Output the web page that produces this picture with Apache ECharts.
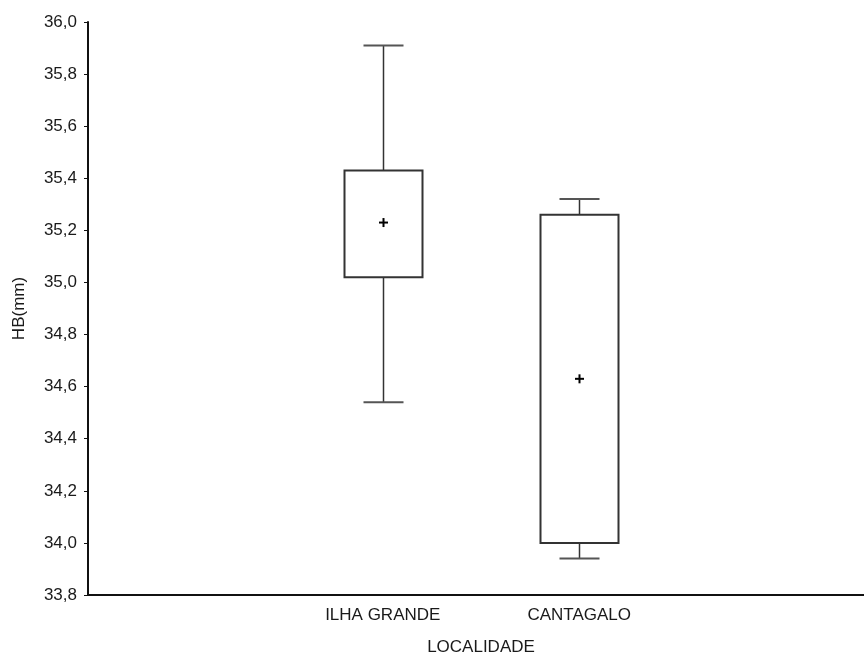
<!DOCTYPE html>
<html>
<head>
<meta charset="utf-8">
<script src="https://cdn.jsdelivr.net/npm/echarts@6/dist/echarts.min.js"></script>
<style>
  html, body { margin: 0; padding: 0; background: #fff; }
  #chart { width: 864px; height: 655px; }
</style>
</head>
<body>
<div id="chart"></div>
<script>
// Localities on the x axis (outer slots are empty padding positions)
const categories = ['', 'ILHA GRANDE', 'CANTAGALO', ''];
const groups = ['ILHA GRANDE', 'CANTAGALO'];

// HB (mm) summary values per locality
const whiskerLow  = [34.54, 33.94];
const boxLow      = [35.02, 34.00];
const boxHigh     = [35.43, 35.26];
const whiskerHigh = [35.91, 35.32];
const means       = [35.23, 34.63];

const yTicks = { min: 33.8, max: 36.0, step: 0.2 };

const boxData = groups.map((g, i) => [
  categories.indexOf(g), whiskerLow[i], boxLow[i], boxHigh[i], whiskerHigh[i], means[i]
]);

const fmt = v => v.toFixed(1).replace('.', ',');
const textColor = '#1a1a1a';
const fontFamily = '"Liberation Sans", Arial, sans-serif';

function renderBox(params, api) {
  const x = api.value(0);
  const pLow = api.coord([x, api.value(1)]);
  const pQ1 = api.coord([x, api.value(2)]);
  const pQ3 = api.coord([x, api.value(3)]);
  const pHigh = api.coord([x, api.value(4)]);
  const pMean = api.coord([x, api.value(5)]);
  const cx = Math.round(pQ1[0]) + 0.5;
  const boxW = 78, capW = 40, plus = 4.5;
  const line = { stroke: '#333', lineWidth: 1.5, fill: null };
  return {
    type: 'group',
    children: [
      // upper whisker and cap
      { type: 'line', shape: { x1: cx, y1: pHigh[1], x2: cx, y2: pQ3[1] }, style: line },
      { type: 'line', shape: { x1: cx - capW / 2, y1: pHigh[1], x2: cx + capW / 2, y2: pHigh[1] }, style: { stroke: '#555', lineWidth: 2 } },
      // lower whisker and cap
      { type: 'line', shape: { x1: cx, y1: pQ1[1], x2: cx, y2: pLow[1] }, style: line },
      { type: 'line', shape: { x1: cx - capW / 2, y1: pLow[1], x2: cx + capW / 2, y2: pLow[1] }, style: { stroke: '#555', lineWidth: 2 } },
      // box
      { type: 'rect', shape: { x: cx - boxW / 2, y: pQ3[1], width: boxW, height: pQ1[1] - pQ3[1] },
        style: { stroke: '#333', lineWidth: 2, fill: '#fff' } },
      // mean marker
      { type: 'line', shape: { x1: cx - plus, y1: pMean[1], x2: cx + plus, y2: pMean[1] }, style: { stroke: '#000', lineWidth: 2 } },
      { type: 'line', shape: { x1: cx, y1: pMean[1] - plus, x2: cx, y2: pMean[1] + plus }, style: { stroke: '#000', lineWidth: 2 } }
    ]
  };
}

const chart = echarts.init(document.getElementById('chart'), null, { renderer: 'canvas' });
chart.setOption({
  animation: false,
  backgroundColor: '#fff',
  grid: { left: 88, top: 22, bottom: 60, right: -10, containLabel: false, outerBoundsMode: 'none' },
  xAxis: {
    type: 'category',
    data: categories,
    boundaryGap: true,
    name: 'LOCALIDADE',
    nameLocation: 'middle',
    nameGap: 44,
    nameTextStyle: { color: textColor, fontSize: 17, fontFamily },
    axisLine: { lineStyle: { color: '#111', width: 2 } },
    axisTick: { alignWithLabel: true, interval: 0, length: 5, inside: true, lineStyle: { color: '#111', width: 1 } },
    axisLabel: { color: textColor, fontSize: 17, fontFamily, margin: 12, interval: 0 },
    splitLine: { show: false }
  },
  yAxis: {
    type: 'value',
    min: yTicks.min,
    max: yTicks.max,
    interval: yTicks.step,
    name: 'HB(mm)',
    nameLocation: 'middle',
    nameGap: 60,
    nameRotate: 90,
    nameTextStyle: { color: textColor, fontSize: 17, fontFamily },
    axisLine: { show: true, lineStyle: { color: '#111', width: 2 } },
    axisTick: { show: true, length: 4, lineStyle: { color: '#111', width: 1 } },
    axisLabel: { color: textColor, fontSize: 17, fontFamily, margin: 11, formatter: fmt },
    splitLine: { show: false }
  },
  series: [{
    type: 'custom',
    renderItem: renderBox,
    encode: { x: 0, y: [1, 2, 3, 4, 5] },
    data: boxData,
    clip: false
  }]
});
</script>
</body>
</html>
